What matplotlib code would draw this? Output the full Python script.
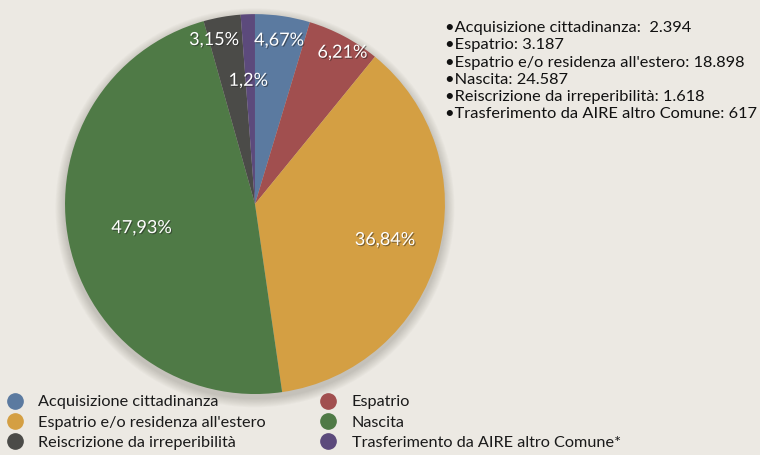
import matplotlib.pyplot as plt
import matplotlib.patheffects as pe
from matplotlib.lines import Line2D
from matplotlib.patches import Circle
import numpy as np

plt.rcParams['font.family'] = ['Lato', 'DejaVu Sans']

categories = ['Acquisizione cittadinanza', 'Espatrio', "Espatrio e/o residenza all'estero",
              'Nascita', 'Reiscrizione da irreperibilità', 'Trasferimento da AIRE altro Comune']
legend_labels = ['Acquisizione cittadinanza', 'Espatrio', "Espatrio e/o residenza all'estero",
                 'Nascita', 'Reiscrizione da irreperibilità', 'Trasferimento da AIRE altro Comune*']
values = [2394, 3187, 18898, 24587, 1618, 617]
value_texts = ['2.394', '3.187', '18.898', '24.587', '1.618', '617']
colors = ['#5B7AA0', '#A14F4F', '#D49F43', '#4F7A46', '#4B4B48', '#5C4A7C']

bg = '#ECE9E3'
label_r = [0.87, 0.92, 0.71, 0.61, 0.89, 0.65]   # distanza etichette dal centro
label_dang = [0, -2, 0, 0, 4, 1]

fig = plt.figure(figsize=(7.6, 4.55), dpi=100, facecolor=bg)
ax = fig.add_axes([0.0855, 0.134, 0.5, 0.835])
ax.set_facecolor(bg)

# ombra morbida sotto la torta
for i in range(10):
    ax.add_patch(Circle((0.0, -0.02), 1.0 + 0.005 * (10 - i), color='#6b665e',
                        alpha=0.03, lw=0, zorder=0, clip_on=False))

wedges, _ = ax.pie(values, colors=colors, startangle=90, counterclock=False,
                   wedgeprops=dict(linewidth=0, zorder=2))
ax.set_xlim(-1, 1)
ax.set_ylim(-1, 1)
ax.set_aspect('equal')
ax.axis('off')

total = sum(values)
for w, v, r, da in zip(wedges, values, label_r, label_dang):
    ang = np.deg2rad((w.theta1 + w.theta2) / 2 + da)
    p = 100.0 * v / total
    txt = f"{p:.2f}".rstrip('0').rstrip('.').replace('.', ',') + '%'
    ax.text(r * np.cos(ang), r * np.sin(ang), txt, ha='center', va='center',
            color='white', fontsize=13, zorder=5,
            path_effects=[pe.withSimplePatchShadow(offset=(0.8, -0.8), shadow_rgbFace='#222222', alpha=0.5)])

# elenco valori in alto a destra
lines = []
for c, t in zip(categories, value_texts):
    sep = ':  ' if c == categories[0] else ': '
    lines.append('\u2022' + c + sep + t)
for i, l in enumerate(lines):
    fig.text(445 / 760, 1 - (28 + i * 17.3) / 455, l, ha='left', va='center',
             fontsize=11.8, color='#111111')

# legenda
handles = [Line2D([], [], marker='o', ls='', markersize=11, markerfacecolor=c,
                  markeredgecolor=c) for c in colors]
order = [0, 2, 4, 1, 3, 5]
fig.legend([handles[i] for i in order], [legend_labels[i] for i in order],
           ncol=2, loc='upper left', bbox_to_anchor=(0.0, 0.146), frameon=False,
           fontsize=11.7, handletextpad=0.95, columnspacing=3.35, labelspacing=0.36,
           handlelength=1.0, borderaxespad=0, labelcolor='#1a1a1a')

fig.savefig('out.png', dpi=100, facecolor=bg)
